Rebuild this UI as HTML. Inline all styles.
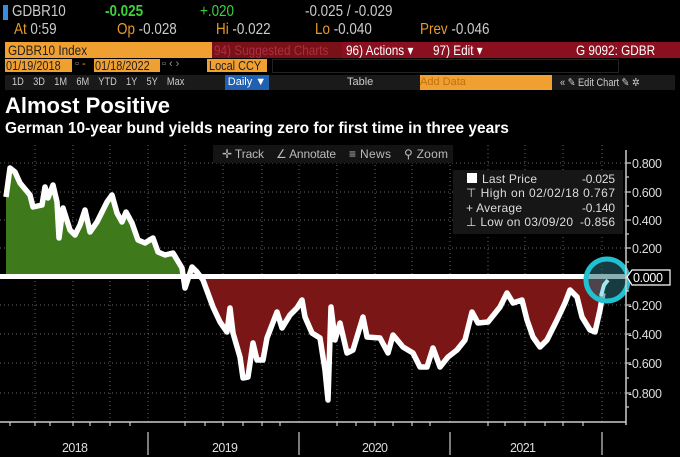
<!DOCTYPE html>
<html><head><style>
body{margin:0;background:#000;width:680px;height:457px;overflow:hidden;font-family:"Liberation Sans",sans-serif;color:#ddd}
.a{position:absolute;white-space:nowrap}
.n{transform:scaleX(.84);transform-origin:left center}
</style></head><body>
<div class="a" style="left:3px;top:5px;width:5px;height:15px;background:#3a8dde"></div>
<div class="a n" style="left:12px;top:3px;font-size:16px;color:#ccc">GDBR10</div>
<div class="a n" style="left:105px;top:3px;font-size:16px;color:#3dd23d;font-weight:bold">-0.025</div>
<div class="a n" style="left:200px;top:3px;font-size:16px;color:#3dd23d">+.020</div>
<div class="a n" style="left:305px;top:3px;font-size:16px;color:#ccc">-0.025 / -0.029</div>
<div class="a n" style="left:14px;top:21px;font-size:16px;color:#e89a2a">At <span style="color:#ccc">0:59</span></div>
<div class="a n" style="left:117px;top:21px;font-size:16px;color:#e89a2a">Op <span style="color:#ccc">-0.028</span></div>
<div class="a n" style="left:216px;top:21px;font-size:16px;color:#e89a2a">Hi <span style="color:#ccc">-0.022</span></div>
<div class="a n" style="left:315px;top:21px;font-size:16px;color:#e89a2a">Lo <span style="color:#ccc">-0.040</span></div>
<div class="a n" style="left:420px;top:21px;font-size:16px;color:#e89a2a">Prev <span style="color:#ccc">-0.046</span></div>
<div class="a" style="left:5px;top:42px;width:207px;height:16px;background:#f0a030"></div>
<div class="a" style="left:212px;top:42px;width:468px;height:16px;background:#8a1020"></div>
<div class="a" style="left:212px;top:42px;width:130px;height:16px;background:#7a1018"></div>
<div class="a n" style="left:8px;top:42px;font-size:14px;color:#222">GDBR10 Index</div>
<div class="a n" style="left:214px;top:42px;font-size:14px;color:#a83040">94) Suggested Charts</div>
<div class="a n" style="left:346px;top:42px;font-size:14px;color:#fff">96) Actions ▾</div>
<div class="a n" style="left:433px;top:42px;font-size:14px;color:#fff">97) Edit ▾</div>
<div class="a n" style="left:576px;top:42px;font-size:14px;color:#fff">G 9092: GDBR</div>
<div class="a" style="left:5px;top:59px;width:67px;height:13px;background:#f0a030"></div>
<div class="a" style="left:94px;top:59px;width:66px;height:13px;background:#f0a030"></div>
<div class="a" style="left:207px;top:59px;width:60px;height:13px;background:#f0a030"></div>
<div class="a n" style="left:6px;top:58px;font-size:13px;color:#222">01/19/2018</div>
<div class="a" style="left:75px;top:58px;font-size:11px;color:#999">▫ <span style="color:#f0a030">-</span></div>
<div class="a n" style="left:95px;top:58px;font-size:13px;color:#222">01/18/2022</div>
<div class="a" style="left:162px;top:58px;font-size:11px;color:#999">▫ ‹ ›</div>
<div class="a n" style="left:209px;top:58px;font-size:13px;color:#222">Local CCY</div>
<div class="a" style="left:272px;top:59px;width:345px;height:12px;background:#000;border:1px solid #222"></div>
<div class="a" style="left:5px;top:75px;width:670px;height:15px;background:#1a1a1a"></div>
<div class="a n" style="left:12px;top:76px;font-size:11px;color:#ccc;word-spacing:8px">1D 3D 1M 6M YTD 1Y 5Y Max</div>
<div class="a" style="left:225px;top:75px;width:44px;height:15px;background:#2060b0;font-size:11px;color:#fff;line-height:15px;text-align:center">Daily ▼</div>
<div class="a" style="left:347px;top:76px;font-size:11px;color:#ccc">Table</div>
<div class="a" style="left:420px;top:75px;width:132px;height:15px;background:#f0a030;font-size:11px;color:#c07010;line-height:15px">Add Data</div>
<div class="a n" style="left:560px;top:76px;font-size:11px;color:#ccc">« ✎ Edit Chart ✎ ✲</div>
<div class="a" style="left:5px;top:93px;font-size:22px;font-weight:bold;color:#fff">Almost Positive</div>
<div class="a" style="left:5px;top:120px;font-size:15.5px;font-weight:bold;color:#fff">German 10-year bund yields nearing zero for first time in three years</div>
<svg class="a" style="left:0;top:0" width="680" height="457">
<defs>
<clipPath id="up"><rect x="0" y="140" width="626" height="137"/></clipPath>
<clipPath id="dn"><rect x="0" y="277" width="626" height="150"/></clipPath>
<path id="d" d="M6 197L10 168L15 172L20 183L30 195L33 207L42 205L45 187L48 198L53 185L57 202L59 238L63 208L70 230L75 235L80 225L85 210L90 232L97 222L107 202L112 195L117 213L122 222L126 212L132 223L138 240L145 243L153 238L158 252L165 255L173 253L182 268L185 288L192 267L197 272L203 280L213 307L220 322L227 332L230 308L233 333L240 357L243 378L248 377L253 343L257 360L263 360L267 338L277 312L282 328L290 315L297 308L302 300L305 317L312 333L320 338L325 370L328 400L331 307L335 340L340 323L347 353L353 350L363 317L367 337L380 338L388 353L393 335L403 347L413 353L420 367L427 367L433 348L440 367L448 357L457 350L465 340L472 312L478 323L488 322L500 307L507 293L513 303L522 300L527 320L533 337L540 347L547 340L557 320L565 303L570 290L577 297L582 317L590 330L595 332L600 310L603 293"/>
<path id="f" d="M6 277L6 197L10 168L15 172L20 183L30 195L33 207L42 205L45 187L48 198L53 185L57 202L59 238L63 208L70 230L75 235L80 225L85 210L90 232L97 222L107 202L112 195L117 213L122 222L126 212L132 223L138 240L145 243L153 238L158 252L165 255L173 253L182 268L185 288L192 267L197 272L203 280L213 307L220 322L227 332L230 308L233 333L240 357L243 378L248 377L253 343L257 360L263 360L267 338L277 312L282 328L290 315L297 308L302 300L305 317L312 333L320 338L325 370L328 400L331 307L335 340L340 323L347 353L353 350L363 317L367 337L380 338L388 353L393 335L403 347L413 353L420 367L427 367L433 348L440 367L448 357L457 350L465 340L472 312L478 323L488 322L500 307L507 293L513 303L522 300L527 320L533 337L540 347L547 340L557 320L565 303L570 290L577 297L582 317L590 330L595 332L600 310L603 293L607 283L607 277Z"/>
</defs>
<g stroke="#666" stroke-dasharray="1,3" stroke-width="1">
<path d="M0 163H626M0 192H626M0 220H626M0 248H626M0 305H626M0 334H626M0 363H626M0 393H626"/>
<path d="M35 145V422M73 145V422M110 145V422M148 145V422M185 145V422M223 145V422M262 145V422M299 145V422M337 145V422M375 145V422M412 145V422M450 145V422M488 145V422M525 145V422M563 145V422M602 145V422"/>
</g>
<use href="#f" fill="#3e7a1c" clip-path="url(#up)"/>
<use href="#f" fill="#7a1616" clip-path="url(#dn)"/>
<rect x="0" y="274" width="626" height="5" fill="#fff"/>
<use href="#d" fill="none" stroke="#fff" stroke-width="5.5" stroke-linejoin="round"/>
<circle cx="607" cy="280" r="21" fill="rgba(40,110,120,0.55)" stroke="#22c0d0" stroke-width="5"/>
<path d="M601 296L604 285L608 280" stroke="#9ee8f0" stroke-width="4" fill="none"/>
<path d="M0 422H626M626 150V425" stroke="#ccc" stroke-width="1.5"/>
<g stroke="#ccc" stroke-width="1.2"><path d="M626 163h5M626 192h5M626 220h5M626 248h5M626 305h5M626 334h5M626 363h5M626 393h5M626 177h3M626 206h3M626 234h3M626 262h3M626 291h3M626 320h3M626 349h3M626 378h3M626 407h3"/>
<path d="M10 422v4M35 422v4M50 422v4M73 422v4M90 422v4M110 422v4M130 422v4M185 422v4M205 422v4M223 422v4M243 422v4M262 422v4M280 422v4M337 422v4M356 422v4M375 422v4M393 422v4M412 422v4M430 422v4M488 422v4M505 422v4M525 422v4M545 422v4M563 422v4M583 422v4"/>
<path d="M148 432V455M299 432V455M450 432V455M602 432V455"/></g>
<g font-size="12.5" fill="#ddd">
<text x="632" y="168" textLength="30">0.800</text><text x="632" y="197" textLength="30">0.600</text><text x="632" y="225" textLength="30">0.400</text><text x="632" y="253" textLength="30">0.200</text>
<text x="628" y="310" textLength="34">-0.200</text><text x="628" y="339" textLength="34">-0.400</text><text x="628" y="368" textLength="34">-0.600</text><text x="628" y="398" textLength="34">-0.800</text>
<text x="62" y="452" textLength="26">2018</text><text x="212" y="452" textLength="26">2019</text><text x="362" y="452" textLength="26">2020</text><text x="510" y="452" textLength="26">2021</text>
</g>
<path d="M627 277l5-7h38v15h-38z" fill="#000" stroke="#fff" stroke-width="1.2"/>
<text x="633" y="282" font-size="12.5" fill="#fff" textLength="30">0.000</text>
<rect x="213" y="145" width="240" height="18" fill="#141414"/>
<g font-size="12" fill="#bbb">
<text x="222" y="158" textLength="42">✛ Track</text><text x="276" y="158" textLength="60">∠ Annotate</text><text x="349" y="158" textLength="42">≡ News</text><text x="404" y="158" textLength="44">⚲ Zoom</text>
</g>
<rect x="453" y="170" width="170" height="64" fill="#161616"/>
<rect x="467" y="173" width="10" height="10" fill="#fff"/>
<g font-size="12" fill="#ddd">
<text x="482" y="183" textLength="55">Last Price</text><text x="582" y="183" textLength="33">-0.025</text>
<text x="466" y="197" textLength="149">⊤ High on 02/02/18 0.767</text>
<text x="466" y="212" textLength="56">+ Average</text><text x="582" y="212" textLength="33">-0.140</text>
<text x="466" y="226" textLength="107">⊥ Low on 03/09/20</text><text x="580" y="226" textLength="35">-0.856</text>
</g>
</svg>
</body></html>
